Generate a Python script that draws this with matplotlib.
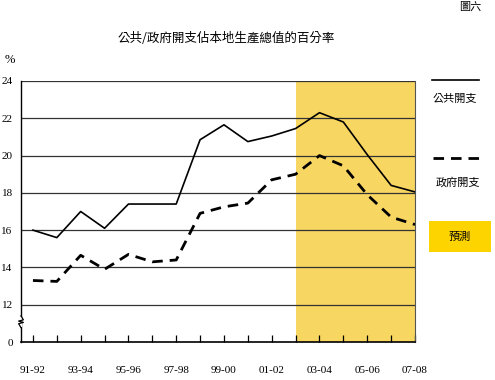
import matplotlib
matplotlib.use("Agg")
import matplotlib.pyplot as plt
from matplotlib.lines import Line2D
from matplotlib.patches import Rectangle

# 財政年度
years = ['91-92', '92-93', '93-94', '94-95', '95-96', '96-97', '97-98', '98-99',
         '99-00', '00-01', '01-02', '02-03', '03-04', '04-05', '05-06', '06-07', '07-08']
public_exp = [16.0, 15.6, 17.0, 16.1, 17.4, 17.4, 17.4, 20.85, 21.65, 20.75, 21.05, 21.45,
              22.3, 21.8, 20.05, 18.4, 18.05]
govt_exp = [13.3, 13.25, 14.65, 13.9, 14.7, 14.3, 14.4, 16.9, 17.25, 17.45, 18.7, 19.0,
            20.0, 19.45, 17.9, 16.7, 16.3]
forecast_start = 11  # 02-03 起為預測
y_ticks = [0, 12, 14, 16, 18, 20, 22, 24]

cjk = ['Noto Sans CJK TC', 'DejaVu Sans']
serif = 'Liberation Serif'
shade = '#F8D662'
box = '#FDD300'

# 斷軸: 0 畫在 10 的位置
def ypos(v):
    return v if v >= 12 else 10 + v

fig = plt.figure(figsize=(4.95, 3.8), dpi=100)
ax = fig.add_axes([21 / 495, 1 - 342 / 380, 394 / 495, 261 / 380])

x = list(range(len(years)))
ax.axvspan(forecast_start, len(years) - 1, color=shade, lw=0, zorder=0)
for t in y_ticks[1:]:
    ax.axhline(t, color='#333333', lw=0.9, zorder=1)
ax.plot(x, [ypos(v) for v in public_exp], color='black', lw=1.2, zorder=3)
ax.plot(x, [ypos(v) for v in govt_exp], color='black', lw=2.0, dashes=(3.8, 2.5), zorder=3)

ax.set_xlim(-0.5, len(years) - 1)
ax.set_ylim(10, 24)
ax.set_yticks([ypos(v) for v in y_ticks])
ax.set_yticklabels([str(v) for v in y_ticks], fontfamily=serif, fontsize=8)
ax.tick_params(axis='y', length=0, pad=6)
ax.set_xticks(x)
ax.set_xticklabels([y if i % 2 == 0 else '' for i, y in enumerate(years)],
                   fontfamily=serif, fontsize=8)
ax.tick_params(axis='x', direction='in', length=5, width=0.9, pad=17)

ax.spines['top'].set_visible(False)
ax.spines['left'].set_linewidth(1.0)
ax.spines['bottom'].set_linewidth(1.2)
ax.spines['right'].set_color('#555555')

# 斷軸符號
bx = [0, 0.006, -0.006, 0.006, -0.006, 0]
by = [0.1, 0.085, 0.08, 0.075, 0.07, 0.055]
ax.plot(bx, by, transform=ax.transAxes, color='black', lw=0.9, clip_on=False, zorder=5)
ax.add_patch(Rectangle((-0.003, 0.057), 0.006, 0.04, transform=ax.transAxes,
                       facecolor='white', edgecolor='none', clip_on=False, zorder=4))

fig.text(226 / 495, 1 - 38 / 380, '公共/政府開支佔本地生產總值的百分率', family=cjk,
         fontsize=9, ha='center', va='center')
fig.text(470 / 495, 1 - 7 / 380, '圖六', family=cjk, fontsize=8, ha='center', va='center')
fig.text(5 / 495, 1 - 60 / 380, '%', family=serif, fontsize=9, ha='left', va='center')

# 圖例
fig.add_artist(Line2D([432 / 495, 479 / 495], [1 - 80 / 380] * 2, color='black', lw=1.2))
fig.text(455 / 495, 1 - 99 / 380, '公共開支', family=cjk, fontsize=8, ha='center', va='center')
fig.add_artist(Line2D([433 / 495, 479 / 495], [1 - 158 / 380] * 2, color='black', lw=2.0,
                      dashes=(3.8, 2.5)))
fig.text(458 / 495, 1 - 182 / 380, '政府開支', family=cjk, fontsize=8, ha='center', va='center')
fig.add_artist(Rectangle((429 / 495, 1 - 252 / 380), 62 / 495, 31 / 380, facecolor=box,
                         edgecolor='none', transform=fig.transFigure))
fig.text(460 / 495, 1 - 237 / 380, '預測', family=cjk, fontsize=8, ha='center', va='center')

fig.savefig('out.png', dpi=100)
